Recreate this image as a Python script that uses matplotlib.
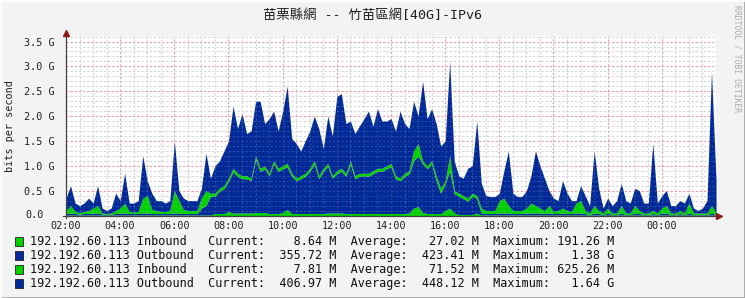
import numpy as np
import matplotlib
matplotlib.use("Agg")
import matplotlib.pyplot as plt
from matplotlib.patches import Rectangle
from matplotlib.lines import Line2D

# ---------------- data (values in G bit/s, 10-minute samples from 02:00) ----------------
hours_per_sample = 1 / 6.0

# top of the whole stack (upper Outbound)
total_top = [
    0.35, 0.6, 0.25, 0.2, 0.25, 0.35, 0.25, 0.6, 0.15, 0.1,
    0.15, 0.45, 0.3, 0.85, 0.25, 0.25, 0.3, 1.2, 0.7, 0.45,
    0.3, 0.3, 0.25, 0.3, 1.5, 0.5, 0.35, 0.3, 0.3, 0.3,
    0.55, 1.25, 0.75, 1.0, 1.1, 1.3, 1.5, 2.2, 1.75, 2.05,
    1.65, 1.7, 2.3, 2.3, 1.85, 1.95, 2.1, 1.7, 2.1, 2.6,
    1.55, 1.45, 1.3, 1.5, 1.7, 2.0, 1.75, 1.35, 2.0, 1.6,
    2.4, 2.45, 1.85, 1.9, 1.65, 1.8, 1.95, 2.1, 1.8, 2.15,
    1.9, 1.9, 1.95, 1.7, 2.1, 1.85, 1.75, 2.3, 2.0, 2.7,
    1.95, 2.15, 1.85, 1.4, 1.5, 3.1, 1.1, 0.8, 0.75, 0.95,
    1.0, 1.9, 0.65, 0.4, 0.38, 0.38, 0.45, 0.9, 1.3, 0.45,
    0.38, 0.38, 0.5, 0.8, 1.3, 1.0, 0.75, 0.5, 0.35, 0.3,
    0.7, 0.45, 0.3, 0.3, 0.6, 0.4, 0.2, 1.3, 0.55, 0.15,
    0.35, 0.2, 0.3, 0.65, 0.3, 0.25, 0.55, 0.5, 0.25, 0.25,
    1.45, 0.25, 0.4, 0.5, 0.2, 0.2, 0.3, 0.25, 0.45, 0.15,
    0.1, 0.15, 0.3, 2.9, 0.7,
]

# top of the second Inbound band (green line inside the blue)
green_top = [
    0.1, 0.2, 0.08, 0.06, 0.08, 0.1, 0.15, 0.2, 0.05, 0.04,
    0.05, 0.1, 0.15, 0.25, 0.08, 0.07, 0.08, 0.35, 0.4, 0.12,
    0.1, 0.08, 0.08, 0.1, 0.5, 0.3, 0.12, 0.1, 0.1, 0.1,
    0.35, 0.5, 0.45, 0.45, 0.55, 0.6, 0.75, 0.95, 0.85, 0.8,
    0.8, 0.75, 1.2, 0.95, 1.0, 0.85, 1.1, 0.95, 1.0, 1.05,
    0.85, 0.75, 0.8, 0.85, 0.95, 1.1, 0.8, 0.95, 1.05, 0.8,
    0.9, 0.95, 0.85, 1.1, 0.8, 0.85, 0.85, 0.85, 0.9, 0.95,
    0.95, 1.0, 1.05, 0.8, 0.75, 0.85, 0.9, 1.3, 1.45, 1.1,
    1.0, 1.1, 0.8, 0.55, 0.7, 1.2, 0.5, 0.45, 0.4, 0.35,
    0.45, 0.4, 0.15, 0.1, 0.1, 0.1, 0.3, 0.35, 0.2, 0.1,
    0.1, 0.1, 0.15, 0.25, 0.2, 0.15, 0.1, 0.2, 0.08, 0.1,
    0.15, 0.1, 0.08, 0.25, 0.3, 0.1, 0.05, 0.2, 0.1, 0.05,
    0.15, 0.05, 0.05, 0.2, 0.05, 0.05, 0.2, 0.1, 0.05, 0.05,
    0.1, 0.05, 0.15, 0.2, 0.05, 0.05, 0.1, 0.05, 0.25, 0.05,
    0.05, 0.05, 0.05, 0.2, 0.05,
]

# second Inbound series (thickness of upper green band)
inbound2 = [
    0.06, 0.15, 0.04, 0.03, 0.04, 0.06, 0.1, 0.15, 0.02, 0.02,
    0.02, 0.06, 0.1, 0.2, 0.04, 0.03, 0.04, 0.3, 0.35, 0.08,
    0.06, 0.04, 0.04, 0.06, 0.45, 0.25, 0.08, 0.06, 0.06, 0.06,
    0.2, 0.3, 0.06, 0.06, 0.06, 0.06, 0.06, 0.07, 0.06, 0.06,
    0.06, 0.05, 0.07, 0.06, 0.06, 0.05, 0.06, 0.06, 0.06, 0.07,
    0.06, 0.05, 0.06, 0.06, 0.06, 0.07, 0.06, 0.06, 0.06, 0.05,
    0.06, 0.06, 0.06, 0.07, 0.06, 0.06, 0.05, 0.06, 0.06, 0.06,
    0.06, 0.06, 0.07, 0.06, 0.05, 0.06, 0.06, 0.2, 0.25, 0.06,
    0.06, 0.06, 0.1, 0.1, 0.06, 0.3, 0.06, 0.06, 0.06, 0.06,
    0.06, 0.06, 0.1, 0.06, 0.06, 0.06, 0.25, 0.3, 0.15, 0.06,
    0.06, 0.06, 0.1, 0.2, 0.15, 0.1, 0.06, 0.15, 0.04, 0.06,
    0.1, 0.06, 0.04, 0.2, 0.25, 0.06, 0.03, 0.15, 0.06, 0.03,
    0.1, 0.03, 0.03, 0.15, 0.03, 0.03, 0.15, 0.06, 0.03, 0.03,
    0.06, 0.03, 0.1, 0.15, 0.03, 0.03, 0.06, 0.03, 0.2, 0.03,
    0.03, 0.03, 0.03, 0.15, 0.03,
]

# first Inbound series (bottom green band)
inbound1 = [
    0.01, 0.01, 0.01, 0.01, 0.01, 0.01, 0.01, 0.01, 0.01, 0.01,
    0.01, 0.01, 0.01, 0.01, 0.01, 0.01, 0.01, 0.01, 0.01, 0.01,
    0.01, 0.01, 0.01, 0.01, 0.01, 0.01, 0.01, 0.01, 0.01, 0.01,
    0.01, 0.01, 0.01, 0.04, 0.04, 0.04, 0.08, 0.05, 0.05, 0.05,
    0.05, 0.05, 0.06, 0.06, 0.06, 0.04, 0.04, 0.04, 0.06, 0.12,
    0.04, 0.04, 0.04, 0.04, 0.04, 0.04, 0.04, 0.04, 0.05, 0.05,
    0.05, 0.05, 0.04, 0.04, 0.04, 0.04, 0.04, 0.04, 0.04, 0.04,
    0.04, 0.04, 0.04, 0.04, 0.04, 0.04, 0.05, 0.15, 0.18, 0.06,
    0.04, 0.04, 0.04, 0.04, 0.1, 0.15, 0.05, 0.02, 0.02, 0.02,
    0.02, 0.05, 0.01, 0.01, 0.01, 0.01, 0.01, 0.01, 0.01, 0.01,
    0.01, 0.01, 0.01, 0.01, 0.01, 0.01, 0.01, 0.01, 0.01, 0.01,
    0.01, 0.01, 0.01, 0.01, 0.01, 0.01, 0.01, 0.01, 0.01, 0.01,
    0.01, 0.01, 0.01, 0.01, 0.01, 0.01, 0.01, 0.01, 0.01, 0.01,
    0.01, 0.01, 0.01, 0.01, 0.01, 0.01, 0.01, 0.01, 0.01, 0.01,
    0.01, 0.01, 0.01, 0.01, 0.01,
]

x_tick_labels = ["02:00", "04:00", "06:00", "08:00", "10:00", "12:00",
                 "14:00", "16:00", "18:00", "20:00", "22:00", "00:00"]
y_tick_values = [0.0, 0.5, 1.0, 1.5, 2.0, 2.5, 3.0, 3.5]
y_tick_labels = ["", "0.5 G", "1.0 G", "1.5 G", "2.0 G", "2.5 G", "3.0 G", "3.5 G"]
zero_label = "0.0"

legend_rows = [
    ("192.192.60.113 Inbound", "8.64 M", "27.02 M", "191.26 M"),
    ("192.192.60.113 Outbound", "355.72 M", "423.41 M", "1.38 G"),
    ("192.192.60.113 Inbound", "7.81 M", "71.52 M", "625.26 M"),
    ("192.192.60.113 Outbound", "406.97 M", "448.12 M", "1.64 G"),
]

title = "苗栗縣網 -- 竹苗區網[40G]-IPv6"

# ---------------- styling ----------------
GREEN = "#00CF00"
BLUE = "#002A97"
BG = "#F3F3F3"
MAJOR = "#F29A9A"
MINOR = "#D4D4D4"
MONO = ["DejaVu Sans Mono", "Noto Sans CJK TC"]

W, H = 745, 298
fig = plt.figure(figsize=(W / 100, H / 100), dpi=100)
fig.patch.set_facecolor(BG)

left, right, top, bottom = 66, 716, 36, 215.5
ax = fig.add_axes([left / W, 1 - bottom / H, (right - left) / W, (bottom - top) / H])
ax.set_facecolor("white")
ymax = (bottom - top) / 49.7
ax.set_xlim(0, 24)
ax.set_ylim(0, ymax)

t = np.arange(len(total_top)) * hours_per_sample
tot = np.array(total_top)
gt = np.array(green_top)
i2 = np.array(inbound2)
i1 = np.array(inbound1)
l2 = gt - i2

ax.fill_between(t, 0, i1, color=GREEN, lw=0, zorder=2)
ax.fill_between(t, i1, l2, color=BLUE, lw=0, zorder=2)
ax.fill_between(t, l2, gt, color=GREEN, lw=0, zorder=2)
ax.fill_between(t, gt, tot, color=BLUE, lw=0, zorder=2)

# grid (behind, and faintly over the areas as in rrdtool)
for lay, a in ((1, 1.0), (3, 0.22)):
    for xv in np.arange(0, 24.01, 0.5):
        major = abs(xv / 2 - round(xv / 2)) < 1e-6
        ax.axvline(xv, color=MAJOR if major else MINOR, lw=0.75,
                   ls=(0, (2, 2)), zorder=lay, alpha=a)
    for yv in np.arange(0.1, ymax, 0.1):
        major = abs(yv / 0.5 - round(yv / 0.5)) < 1e-6
        ax.axhline(yv, color=MAJOR if major else MINOR, lw=0.75,
                   ls=(0, (2, 2)), zorder=lay, alpha=a)

for s in ax.spines.values():
    s.set_visible(False)

ax.set_xticks(np.arange(0, 24, 2))
ax.set_xticklabels(x_tick_labels)
ax.set_yticks(y_tick_values)
ax.set_yticklabels(y_tick_labels)
ax.tick_params(length=0, labelsize=7.3, colors="#202020", pad=4)
ax.tick_params(axis="y", pad=8)
for lab in ax.get_xticklabels() + ax.get_yticklabels():
    lab.set_family(MONO)
# "0.0" carries no unit, so its number column lines up with the others
ax.annotate(zero_label, xy=(0, y_tick_values[0]), xytext=(-22, 0),
            textcoords="offset pixels", ha="right", va="center",
            family=MONO, fontsize=7.3, color="#202020", annotation_clip=False)

# axes with arrows
ax.plot([0, 0], [-0.06, ymax + 0.06], color="#404040", lw=0.9, clip_on=False, zorder=5)
ax.plot([-0.1, 24.1], [0, 0], color="#404040", lw=0.9, clip_on=False, zorder=5)
ax.plot([0], [ymax + 0.07], marker="^", ms=4.5, color="#8B1A1A", clip_on=False, zorder=6)
ax.plot([24.12], [0], marker=">", ms=4.5, color="#8B1A1A", clip_on=False, zorder=6)

ax.set_ylabel("bits per second", family=MONO, fontsize=7.3, color="#202020")
ax.yaxis.set_label_coords((15 - left) / (right - left), (bottom - 126) / (bottom - top))

fig.text(0.5, 1 - 15 / H, title, ha="center", va="center", family=MONO,
         fontsize=9.6, color="#202020")
fig.text(737 / W, 1 - 5 / H, "RRDTOOL / TOBI OETIKER", rotation=270, ha="center",
         va="top", family=MONO, fontsize=5.8, color="#AAAAAA")

colors = [GREEN, BLUE, GREEN, BLUE]
for k, (name, cur, avg, mx) in enumerate(legend_rows):
    yc = 241.5 + 14 * k
    line = f"{name:<25}Current:{cur:>10}  Average:{avg:>10}  Maximum:{mx:>9}"
    fig.text(30 / W, 1 - yc / H, line, ha="left", va="center", family=MONO,
             fontsize=8.5, color="#101010")
    fig.add_artist(Rectangle((15 / W, 1 - (yc + 4.5) / H), 8 / W, 9 / H,
                             transform=fig.transFigure, facecolor=colors[k],
                             edgecolor="#202020", lw=0.6))

# frame shading
fig.add_artist(Line2D([0, 1], [0.5 / H, 0.5 / H], transform=fig.transFigure, color="#A0A0A0", lw=1.2))
fig.add_artist(Line2D([1 - 0.5 / W, 1 - 0.5 / W], [0, 1], transform=fig.transFigure, color="#A0A0A0", lw=1.2))
fig.add_artist(Line2D([0, 1], [1 - 0.5 / H, 1 - 0.5 / H], transform=fig.transFigure, color="#FFFFFF", lw=1.2))
fig.add_artist(Line2D([0.5 / W, 0.5 / W], [0, 1], transform=fig.transFigure, color="#FFFFFF", lw=1.2))

fig.savefig("out.png", dpi=100, facecolor=fig.get_facecolor())
